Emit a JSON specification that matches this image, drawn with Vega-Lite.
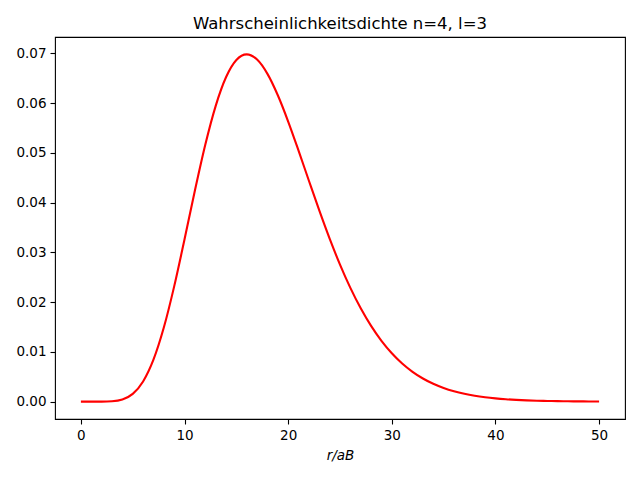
{
  "$schema": "https://vega.github.io/schema/vega-lite/v6.json",
  "width": 570,
  "height": 382,
  "autosize": {"type": "none"},
  "padding": {"left": 55, "top": 37, "right": 15, "bottom": 61},
  "background": "white",
  "title": {"text": "Wahrscheinlichkeitsdichte n=4, l=3", "font": "DejaVu Sans", "fontSize": 16.5, "fontWeight": "normal", "color": "black", "offset": 5, "anchor": "middle"},
  "config": {
    "view": {"stroke": "black", "strokeWidth": 1.1},
    "axis": {"grid": false, "domain": false, "tickColor": "black", "tickWidth": 1.1, "tickSize": 5, "labelFont": "DejaVu Sans", "labelFontSize": 13.5, "labelColor": "black", "labelPadding": 4, "titleFont": "DejaVu Sans", "titleFontSize": 13.5, "titleColor": "black", "titleFontWeight": "normal"}
  },
  "data": {"values": [
    {"r": 0, "p": 0},
    {"r": 1, "p": 0.00000003},
    {"r": 2, "p": 0.00000456},
    {"r": 3, "p": 0.0000709},
    {"r": 4, "p": 0.0004296},
    {"r": 5, "p": 0.0015532},
    {"r": 6, "p": 0.0040508},
    {"r": 7, "p": 0.0084326},
    {"r": 8, "p": 0.014885},
    {"r": 9, "p": 0.023165},
    {"r": 10, "p": 0.032639},
    {"r": 11, "p": 0.042435},
    {"r": 12, "p": 0.051629},
    {"r": 13, "p": 0.059407},
    {"r": 14, "p": 0.065189},
    {"r": 15, "p": 0.068665},
    {"r": 16, "p": 0.069794},
    {"r": 17, "p": 0.068754},
    {"r": 18, "p": 0.065879},
    {"r": 19, "p": 0.06158},
    {"r": 20, "p": 0.056299},
    {"r": 21, "p": 0.050451},
    {"r": 22, "p": 0.044397},
    {"r": 23, "p": 0.038427},
    {"r": 24, "p": 0.032761},
    {"r": 25, "p": 0.027546},
    {"r": 26, "p": 0.022865},
    {"r": 27, "p": 0.018756},
    {"r": 28, "p": 0.015218},
    {"r": 29, "p": 0.012221},
    {"r": 30, "p": 0.0097223},
    {"r": 31, "p": 0.0076655},
    {"r": 32, "p": 0.0059937},
    {"r": 33, "p": 0.0046501},
    {"r": 34, "p": 0.0035813},
    {"r": 35, "p": 0.002739},
    {"r": 36, "p": 0.0020813},
    {"r": 37, "p": 0.0015717},
    {"r": 38, "p": 0.00118},
    {"r": 39, "p": 0.00088102},
    {"r": 40, "p": 0.00065433},
    {"r": 41, "p": 0.00048355},
    {"r": 42, "p": 0.00035565},
    {"r": 43, "p": 0.00026039},
    {"r": 44, "p": 0.00018982},
    {"r": 45, "p": 0.00013781},
    {"r": 46, "p": 0.000099656},
    {"r": 47, "p": 0.00007179},
    {"r": 48, "p": 0.00005153},
    {"r": 49, "p": 0.00003686},
    {"r": 50, "p": 0.00002628}
  ]},
  "mark": {"type": "line", "color": "#ff0000", "strokeWidth": 2.1, "interpolate": "monotone"},
  "encoding": {
    "x": {"field": "r", "type": "quantitative", "scale": {"domain": [-2.5, 52.5], "nice": false, "zero": false}, "axis": {"values": [0, 10, 20, 30, 40, 50], "title": "r/aB", "titleFontStyle": "italic", "titlePadding": 7}},
    "y": {"field": "p", "type": "quantitative", "scale": {"domain": [-0.00349, 0.07329], "nice": false, "zero": false}, "axis": {"values": [0, 0.01, 0.02, 0.03, 0.04, 0.05, 0.06, 0.07], "format": ".2f", "title": null}}
  }
}
